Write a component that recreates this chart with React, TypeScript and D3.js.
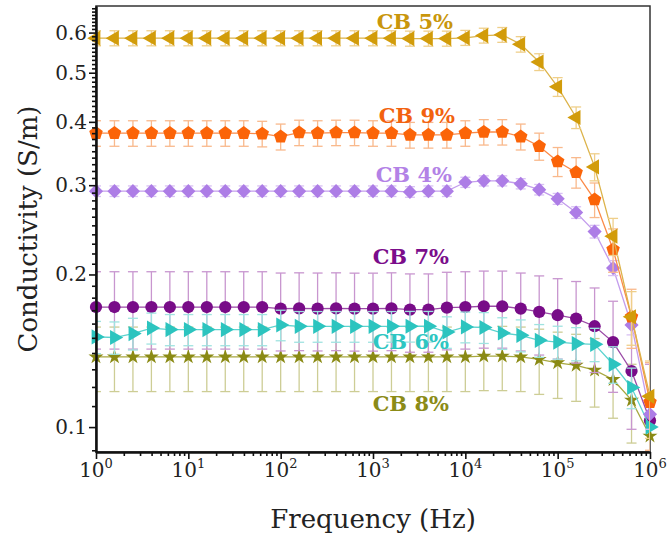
import React, { useEffect, useRef } from "react";
import * as d3 from "d3";

// frequency as log10(Hz), 0.2 decade steps
const freqExp = [0, 0.2, 0.4, 0.6, 0.8, 1, 1.2, 1.4, 1.6, 1.8, 2, 2.2, 2.4, 2.6, 2.8, 3,
  3.2, 3.4, 3.6, 3.8, 4, 4.2, 4.4, 4.6, 4.8, 5, 5.2, 5.4, 5.6, 5.8, 6];

const seriesNames = ["CB 8%", "CB 7%", "CB 6%", "CB 4%", "CB 9%", "CB 5%"];

const cb8 = [0.1375, 0.1375, 0.1375, 0.1375, 0.1375, 0.1375, 0.1375, 0.1375, 0.1375, 0.1375, 0.1375,
  0.1375, 0.1375, 0.1375, 0.1375, 0.1375, 0.1375, 0.1375, 0.1375, 0.1375, 0.1375, 0.138, 0.138,
  0.1375, 0.136, 0.1339, 0.1324, 0.1295, 0.1241, 0.113, 0.096];
const cb7 = [0.1725, 0.1725, 0.1725, 0.1725, 0.1725, 0.1725, 0.1725, 0.1725, 0.1725, 0.1725, 0.1713,
  0.1715, 0.1713, 0.1715, 0.1712, 0.1712, 0.1715, 0.1705, 0.1705, 0.172, 0.1725, 0.1731, 0.1731,
  0.1713, 0.1687, 0.1662, 0.1637, 0.1581, 0.1471, 0.129, 0.103];
const cb6 = [0.1506, 0.1502, 0.1529, 0.1568, 0.1557, 0.1557, 0.1557, 0.1557, 0.1557, 0.1557, 0.159,
  0.158, 0.158, 0.158, 0.158, 0.158, 0.158, 0.1581, 0.1581, 0.154, 0.1576, 0.1572, 0.1533,
  0.1517, 0.1483, 0.1471, 0.1461, 0.1456, 0.133, 0.1197, 0.1];
const cb4 = [0.292, 0.292, 0.292, 0.292, 0.292, 0.292, 0.292, 0.292, 0.292, 0.292, 0.292,
  0.292, 0.292, 0.292, 0.292, 0.292, 0.292, 0.291, 0.292, 0.292, 0.304, 0.306, 0.306,
  0.302, 0.294, 0.282, 0.265, 0.243, 0.206, 0.159, 0.106];
const cb9 = [0.38, 0.38, 0.38, 0.38, 0.38, 0.38, 0.38, 0.38, 0.38, 0.379, 0.374,
  0.381, 0.38, 0.381, 0.381, 0.38, 0.38, 0.377, 0.377, 0.377, 0.38, 0.382, 0.382,
  0.374, 0.358, 0.334, 0.318, 0.281, 0.224, 0.165, 0.112];
const cb5 = [0.585, 0.585, 0.585, 0.585, 0.585, 0.585, 0.585, 0.585, 0.585, 0.585, 0.585,
  0.585, 0.585, 0.585, 0.585, 0.585, 0.585, 0.584, 0.584, 0.584, 0.586, 0.592, 0.594,
  0.569, 0.525, 0.469, 0.408, 0.326, 0.238, 0.165, 0.115];

// error bar half heights (S/m)
const seriesErr = [0.02, 0.03, 0.011, 0.007, 0.022, 0.02];

const yTicks = [0.1, 0.2, 0.3, 0.4, 0.5, 0.6];
const xTickExp = [0, 1, 2, 3, 4, 5, 6];

const W = 667, H = 543;
const FONT = '"DejaVu Serif", serif';

// look of each series, same order as seriesNames
const looks = [
  { marker: "#8a8a14", line: "#a8a840", bar: "#cdcd95", text: "#8b8b17", sym: "star", size: 70, lx: 449, ly: 411 },
  { marker: "#780c88", line: "#9a4aa6", bar: "#c896cf", text: "#7b0d8b", sym: "circle", size: 118, lx: 449, ly: 264 },
  { marker: "#2cc4bf", line: "#5cd3cf", bar: "#9fe3e0", text: "#2ec6c2", sym: "right", size: 100, lx: 449, ly: 349 },
  { marker: "#ad7de6", line: "#c39ded", bar: "#d8c0f3", text: "#b382e6", sym: "diamond", size: 100, lx: 452, ly: 182 },
  { marker: "#fb6408", line: "#fb8a48", bar: "#f9b98c", text: "#f2620f", sym: "pentagon", size: 120, lx: 455, ly: 123 },
  { marker: "#d29c0a", line: "#dcb34a", bar: "#efcf8a", text: "#c9960c", sym: "left", size: 100, lx: 453, ly: 29 },
];

const pentagon = {
  draw(ctx: any, size: number) {
    const r = Math.sqrt(size / 2.378);
    for (let i = 0; i < 5; i++) {
      const a = -Math.PI / 2 + (i * 2 * Math.PI) / 5;
      if (i === 0) ctx.moveTo(r * Math.cos(a), r * Math.sin(a));
      else ctx.lineTo(r * Math.cos(a), r * Math.sin(a));
    }
    ctx.closePath();
  },
};

const App = () => {
  const ref = useRef<SVGSVGElement>(null);

  useEffect(() => {
    const svg = d3.select(ref.current);
    svg.selectAll("*").remove();

    const x = d3.scaleLog().domain([1, 1e6]).range([96, 650]);
    const y = d3.scaleLog().domain([0.0893, 0.677]).range([452, 6]);
    const freqs = freqExp.map((e) => Math.pow(10, e));
    const all = [cb8, cb7, cb6, cb4, cb9, cb5];

    svg.append("defs").append("clipPath").attr("id", "plotclip")
      .append("rect").attr("x", 96).attr("y", 6).attr("width", 554).attr("height", 446);

    // frame
    svg.append("rect")
      .attr("x", 96).attr("y", 6).attr("width", 554).attr("height", 446)
      .attr("fill", "none").attr("stroke", "#333").attr("stroke-width", 1.5);

    const plot = svg.append("g");
    all.forEach((vals, si) => {
      const lk = looks[si];
      const err = seriesErr[si];
      const g = plot.append("g");
      const line = d3.line<number>()
        .x((_, i) => x(freqs[i]))
        .y((v) => y(v));
      g.append("path").attr("d", line(vals)).attr("fill", "none")
        .attr("stroke", lk.line).attr("stroke-width", 1.3);

      const bars = g.append("g").attr("clip-path", "url(#plotclip)")
        .attr("stroke", lk.bar).attr("stroke-width", 1.3);
      vals.forEach((v, i) => {
        const cx = x(freqs[i]);
        const y1 = y(v + err);
        const y0 = y(Math.max(v - err, 0.05));
        bars.append("line").attr("x1", cx).attr("x2", cx).attr("y1", y1).attr("y2", y0);
        bars.append("line").attr("x1", cx - 5).attr("x2", cx + 5).attr("y1", y1).attr("y2", y1);
        bars.append("line").attr("x1", cx - 5).attr("x2", cx + 5).attr("y1", y0).attr("y2", y0);
      });

      let type: any = d3.symbolCircle;
      let rot = 0;
      if (lk.sym === "star") type = d3.symbolStar;
      if (lk.sym === "left") { type = d3.symbolTriangle; rot = -90; }
      if (lk.sym === "right") { type = d3.symbolTriangle; rot = 90; }
      if (lk.sym === "diamond") { type = d3.symbolSquare; rot = 45; }
      if (lk.sym === "pentagon") type = pentagon;
      const sym = d3.symbol().type(type).size(lk.size);
      g.selectAll(".m").data(vals).enter().append("path")
        .attr("d", sym() as string)
        .attr("transform", (v, i) => `translate(${x(freqs[i])},${y(v)}) rotate(${rot})`)
        .attr("fill", lk.marker);

      svg.append("text")
        .attr("x", lk.lx).attr("y", lk.ly)
        .attr("text-anchor", "end")
        .attr("font-family", FONT).attr("font-weight", "bold").attr("font-size", 21)
        .attr("fill", lk.text)
        .text(seriesNames[si]);
    });

    // x axis
    const majorX = xTickExp.map((e) => Math.pow(10, e));
    const minorX: number[] = [];
    for (let d = 0; d < 6; d++) for (let m = 2; m < 10; m++) minorX.push(m * Math.pow(10, d));
    const xg = svg.append("g").attr("transform", "translate(0,452)");
    xg.call(d3.axisBottom(x).tickValues(majorX).tickSize(7).tickSizeOuter(0).tickFormat(() => ""));
    xg.append("g").call(d3.axisBottom(x).tickValues(minorX).tickSize(4).tickSizeOuter(0).tickFormat(() => ""));
    xg.selectAll("path.domain").attr("stroke", "#111").attr("stroke-width", 2);
    xg.selectAll("line").attr("stroke", "#111").attr("stroke-width", 1.6);
    xTickExp.forEach((e) => {
      const t = svg.append("text")
        .attr("x", x(Math.pow(10, e))).attr("y", 477)
        .attr("text-anchor", "middle")
        .attr("font-family", FONT).attr("font-size", 20).attr("fill", "#222");
      t.append("tspan").text("10");
      t.append("tspan").attr("dy", -9).attr("font-size", 13).text(String(e));
    });

    // y axis
    const minorY: number[] = [];
    for (let k = 9; k <= 67; k++) if (k % 10 !== 0) minorY.push(k / 100);
    const yg = svg.append("g").attr("transform", "translate(96,0)");
    yg.call(d3.axisLeft(y).tickValues(yTicks).tickSize(7).tickSizeOuter(0).tickFormat(() => ""));
    yg.append("g").call(d3.axisLeft(y).tickValues(minorY).tickSize(4).tickSizeOuter(0).tickFormat(() => ""));
    yg.selectAll("path.domain").attr("stroke", "#111").attr("stroke-width", 2);
    yg.selectAll("line").attr("stroke", "#111").attr("stroke-width", 1.6);
    yTicks.forEach((v) => {
      svg.append("text")
        .attr("x", 87).attr("y", y(v) + 7)
        .attr("text-anchor", "end")
        .attr("font-family", FONT).attr("font-size", 20).attr("fill", "#222")
        .text(String(v));
    });

    svg.append("text")
      .attr("x", 373).attr("y", 528)
      .attr("text-anchor", "middle")
      .attr("font-family", FONT).attr("font-size", 26).attr("fill", "#222")
      .text("Frequency (Hz)");
    svg.append("text")
      .attr("transform", "translate(37,229) rotate(-90)")
      .attr("text-anchor", "middle")
      .attr("font-family", FONT).attr("font-size", 26).attr("fill", "#222")
      .text("Conductivity (S/m)");
  }, []);

  return (
    <svg ref={ref} width={W} height={H}
      style={{ position: "absolute", left: 0, top: 0, background: "#fff" }} />
  );
};

export default App;
